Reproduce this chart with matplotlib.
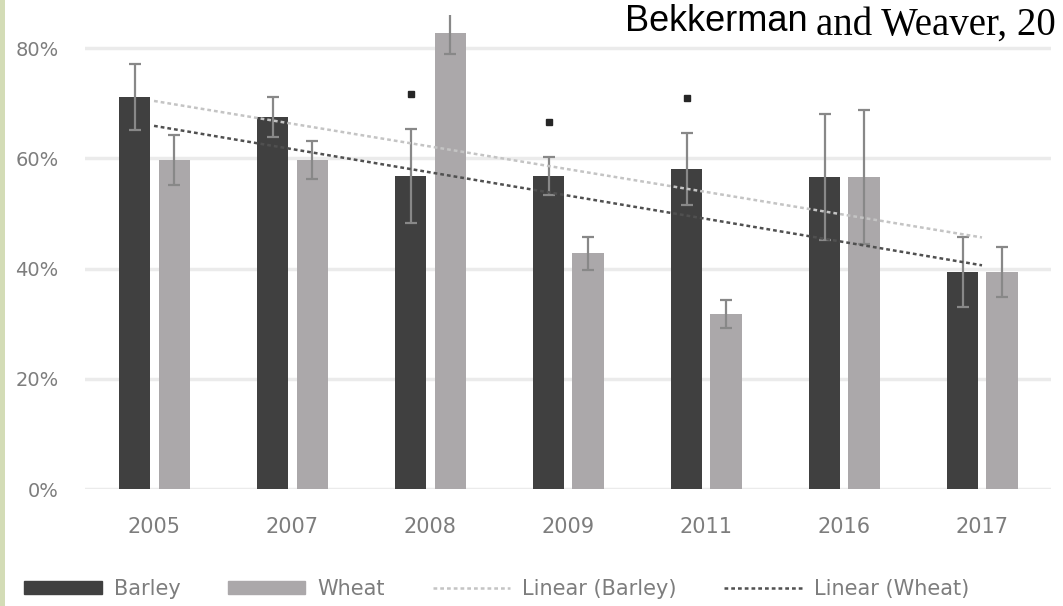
import numpy as np
import matplotlib.pyplot as plt
from matplotlib.patches import Patch, Rectangle
from matplotlib.lines import Line2D

years = ['2005', '2007', '2008', '2009', '2011', '2016', '2017']
barley = [71.1, 67.5, 56.8, 56.8, 58.1, 56.6, 39.4]
barley_err = [6.0, 3.6, 8.5, 3.5, 6.5, 11.4, 6.3]
wheat = [59.7, 59.7, 82.8, 42.8, 31.8, 56.6, 39.4]
wheat_err = [4.5, 3.5, 3.8, 3.0, 2.5, 12.2, 4.5]
significant = ['2008', '2009', '2011']

dark = '#404040'
light = '#aba8aa'
tick_grey = '#7d7d7d'
font = ['DejaVu Sans']

fig = plt.figure(figsize=(10.63, 6.06), dpi=100)
fig.patch.set_facecolor('white')
# pale green strip on the left margin
fig.patches.append(Rectangle((0, 0), 5 / 1063, 1, transform=fig.transFigure,
                             facecolor='#d3dcb6', edgecolor='none'))

ax = fig.add_axes([0.080, 0.193, 0.9087, 0.782])
x = np.arange(len(years))
w = 0.225

ax.bar(x - 0.141, barley, w, color=dark, zorder=2)
ax.bar(x + 0.145, wheat, w, color=light, zorder=2)
ax.errorbar(x - 0.141, barley, yerr=barley_err, fmt='none', ecolor='#888888',
            elinewidth=1.6, capsize=4, capthick=1.6, zorder=3)
ax.errorbar(x + 0.145, wheat, yerr=wheat_err, fmt='none', ecolor='#888888',
            elinewidth=1.6, capsize=4, capthick=1.6, zorder=3)

# significance markers above the barley bars
for yr in significant:
    i = years.index(yr)
    ax.plot(i - 0.141, barley[i] + barley_err[i] + 6.3, 's', color='#262626',
            ms=5, zorder=4)

# linear trend lines
fit_b = np.polyfit(x + 1, barley, 1)
fit_w = np.polyfit(x + 1, wheat, 1)
trend_style = (0, (1.5, 1.2))
ax.plot(x, np.polyval(fit_b, x + 1), color='#c4c4c4', lw=1.8,
        linestyle=trend_style, zorder=4)
ax.plot(x, np.polyval(fit_w, x + 1), color='#505050', lw=1.8,
        linestyle=trend_style, zorder=4)

ax.set_xlim(-0.5, len(years) - 0.5)
ax.set_ylim(0, 86)
ax.set_yticks([0, 20, 40, 60, 80])
ax.set_yticklabels(['0%', '20%', '40%', '60%', '80%'])
ax.set_xticks(x)
ax.set_xticklabels(years)
ax.grid(axis='y', color='#ebebeb', lw=2.5, zorder=0)
ax.set_axisbelow(True)
for s in ax.spines.values():
    s.set_visible(False)
ax.tick_params(length=0, colors=tick_grey)
ax.tick_params(axis='x', pad=20, labelsize=15)
ax.tick_params(axis='y', pad=19, labelsize=14)
for lab in ax.get_xticklabels() + ax.get_yticklabels():
    lab.set_fontfamily(font)

handles = [Patch(color=dark), Patch(color=light),
           Line2D([], [], color='#c4c4c4', lw=1.8, linestyle=trend_style),
           Line2D([], [], color='#505050', lw=1.8, linestyle=trend_style)]
labels = ['Barley', 'Wheat', 'Linear (Barley)', 'Linear (Wheat)']
fig.legend(handles, labels, loc='center left', bbox_to_anchor=(14 / 1063, 0.028),
           ncol=4, frameon=False, borderpad=0, handlelength=3.7,
           handleheight=0.6, handletextpad=0.58, columnspacing=2.3,
           prop={'family': font, 'size': 15}, labelcolor=tick_grey)

fig.text(625 / 1063, 1 - 31 / 606, 'Bekkerman', fontsize=26,
         fontfamily=['Liberation Sans', 'DejaVu Sans'], va='baseline',
         color='black')
fig.text(816 / 1063, 1 - 35 / 606, 'and Weaver, 20', fontsize=28,
         fontfamily=['Liberation Serif', 'DejaVu Serif'], va='baseline',
         color='black')

fig.savefig('out.png', dpi=100)
